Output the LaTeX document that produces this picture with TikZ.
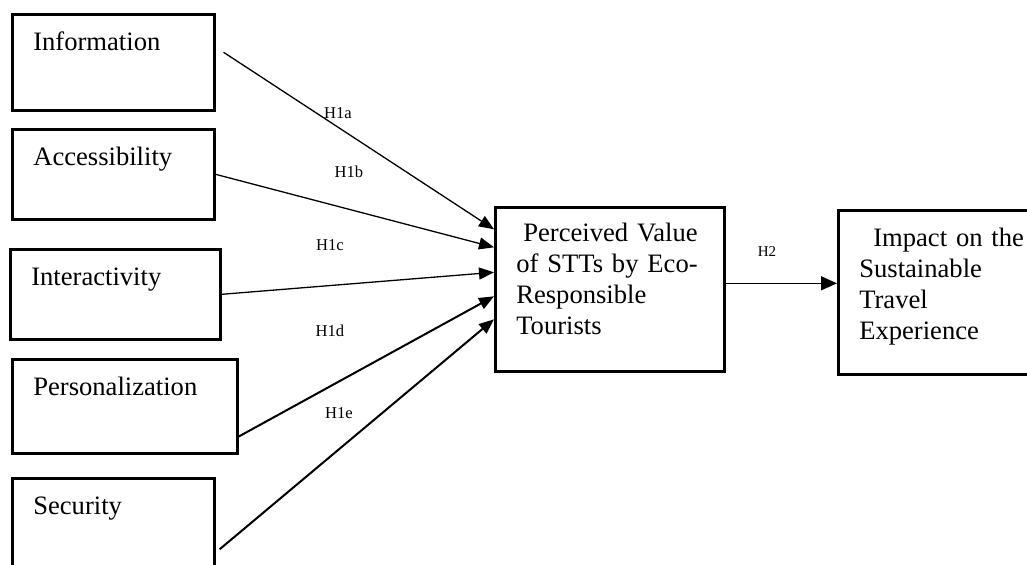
\documentclass[tikz,border=0pt]{standalone}
\usepackage{fontspec}
\setmainfont{Liberation Serif}
\usetikzlibrary{arrows.meta}

\begin{document}
\begin{tikzpicture}[x=0.5pt, y=-0.5pt]
  \tikzstyle{box}=[draw, line width=1.3pt, anchor=north west, inner xsep=10.5pt,
  inner ysep=0pt, align=left, font=\fontsize{13.3}{15.5}\selectfont]
  \tikzstyle{factor}=[box, text height=18pt]
  \tikzstyle{hyp}=[font=\fontsize{8.3}{10}\selectfont]
  \tikzstyle{link}=[-{Triangle[length=7.5pt, width=6pt]}, line width=0.65pt]

  \useasboundingbox (0,0) rectangle (1027,564);
  \clip (0,0) rectangle (1027,564);

  \node (info) at (11,13) [factor, text width=80pt, text depth=30pt] {Information};
  \node (access) at (11,128) [factor, text width=80pt, text depth=27pt] {Accessibility};
  \node (inter) at (9,248) [factor, text width=84pt, text depth=27pt] {Interactivity};
  \node (pers) at (11,358) [factor, text width=91.5pt, text depth=29pt] {Personalization};
  \node (secur) at (11,477) [factor, text width=80pt, text depth=32pt] {Security};

  \node (pv) at (494,206) [box, text width=93.5pt, text height=17pt, text depth=65pt]
  {\hspace*{3.5pt}Perceived Value\\of STTs by Eco-\\Responsible\\Tourists};
  \node (impact) at (837,209) [box, text width=110pt, text height=18pt, text depth=64pt]
  {\hspace*{7pt}Impact on the\\Sustainable\\Travel\\Experience};

  \draw[link] ([xshift=4pt, yshift=5pt]info.east) -- ([yshift=30pt]pv.west);
  \draw[link] (access.east) -- ([yshift=21pt]pv.west);
  \draw[link] (inter.east) -- ([yshift=8.5pt]pv.west);
  \draw[link, line width=1pt] ([yshift=9pt]pers.south east) -- ([yshift=-3.5pt]pv.west);
  \draw[link, line width=1pt] ([xshift=2pt, yshift=-10.5pt]secur.east) -- ([yshift=-15pt]pv.west);
  \draw[link, -{Triangle[length=8pt, width=7pt]}] ([yshift=3pt]pv.east) -- ([yshift=3pt]pv.east -| impact.west);

  \node (h1a) at (338,113) [hyp] {H1a};
  \node (h1b) at (349,172) [hyp] {H1b};
  \node (h1c) at (330,245) [hyp] {H1c};
  \node (h1d) at (330,331) [hyp] {H1d};
  \node (h1e) at (339,413) [hyp] {H1e};
  \node (h2) at (767,252) [hyp, font=\fontsize{7.5}{9}\selectfont] {H2};

\end{tikzpicture}
\end{document}
